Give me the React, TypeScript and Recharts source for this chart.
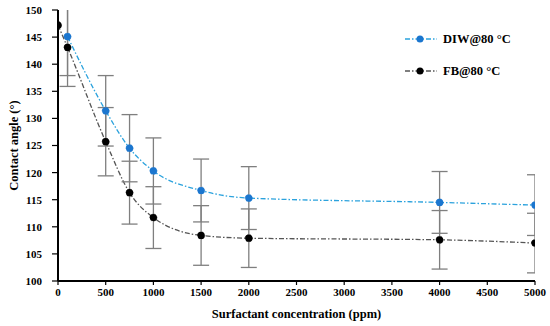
import React, { useEffect, useRef } from 'react';
import { ComposedChart, Line, XAxis, YAxis, ErrorBar, Legend } from 'recharts';

// DIW@80 °C
const concDIW = [100, 500, 750, 1000, 1500, 2000, 4000, 5000];
const angleDIW = [145.1, 131.4, 124.5, 120.3, 116.7, 115.3, 114.5, 114.0];
const errDIW = [7.2, 6.5, 6.2, 6.1, 5.8, 5.8, 5.7, 5.6];

// FB@80 °C
const concFB = [0, 100, 500, 750, 1000, 1500, 2000, 4000, 5000];
const angleFB = [147.2, 143.1, 125.7, 116.3, 111.7, 108.4, 107.9, 107.6, 107.0];
const errFB = [0, 7.2, 6.3, 5.8, 5.7, 5.5, 5.4, 5.4, 5.5];

const xTicks = [0, 500, 1000, 1500, 2000, 2500, 3000, 3500, 4000, 4500, 5000];
const yTicks = [100, 105, 110, 115, 120, 125, 130, 135, 140, 145, 150];

const diwData = concDIW.map((c, i) => ({ conc: c, angle: angleDIW[i], err: errDIW[i] }));
const fbData = concFB.map((c, i) => ({ conc: c, angle: angleFB[i], err: errFB[i] }));

const W = 550;
const H = 326;
const MARGIN = { top: 10, right: 15, bottom: 0, left: 0 };
const Y_AXIS_W = 58;
const X_AXIS_H = 45;

const FONT = 'Liberation Serif, Times New Roman, serif';
const BLUE_LINE = '#2ba2dd';
const BLUE_DOT = '#1b76cf';
const ERR = '#7f7f7f';

const textStyle = { fill: '#000', fontFamily: FONT, fontWeight: 700 };

const legendItems = [
  { label: 'DIW@80 °C', line: BLUE_LINE, dot: BLUE_DOT },
  { label: 'FB@80 °C', line: '#555', dot: '#000' },
];

const renderLegend = () => (
  <div style={{ fontFamily: FONT, fontWeight: 'bold', fontSize: 12.5 }}>
    {legendItems.map((it) => (
      <div key={it.label} style={{ display: 'flex', alignItems: 'center', height: 16, marginBottom: 16 }}>
        <svg width={36} height={10} style={{ marginRight: 3 }}>
          <line x1={1} y1={5} x2={33} y2={5} stroke={it.line} strokeWidth={1.3} strokeDasharray="5 2 1.5 2" />
          <circle cx={16} cy={5} r={3.5} fill={it.dot} />
        </svg>
        <span style={{ color: '#000' }}>{it.label}</span>
      </div>
    ))}
  </div>
);

// error bars are cut at the plot frame in the original, recharts doesn't clip them
const useClipErrorBars = (ref: React.RefObject<HTMLDivElement | null>) => {
  useEffect(() => {
    const root = ref.current;
    if (!root) return;
    const ns = 'http://www.w3.org/2000/svg';
    const apply = () => {
      const svg = root.querySelector('svg.recharts-surface') || root.querySelector('svg');
      if (!svg) return;
      if (!svg.querySelector('#plot-clip')) {
        const cp = document.createElementNS(ns, 'clipPath');
        cp.setAttribute('id', 'plot-clip');
        cp.setAttribute('clipPathUnits', 'userSpaceOnUse');
        const r = document.createElementNS(ns, 'rect');
        r.setAttribute('x', String(MARGIN.left + Y_AXIS_W));
        r.setAttribute('y', String(MARGIN.top));
        r.setAttribute('width', String(W - MARGIN.left - MARGIN.right - Y_AXIS_W));
        r.setAttribute('height', String(H - MARGIN.top - MARGIN.bottom - X_AXIS_H));
        cp.appendChild(r);
        svg.insertBefore(cp, svg.firstChild);
      }
      svg.querySelectorAll(`[class*="errorBar"] line, line[stroke="${ERR}"]`).forEach((l) => {
        if (l.getAttribute('clip-path') !== 'url(#plot-clip)') l.setAttribute('clip-path', 'url(#plot-clip)');
      });
    };
    apply();
    const mo = new MutationObserver(apply);
    mo.observe(root, { childList: true, subtree: true });
    return () => mo.disconnect();
  }, [ref]);
};

const App: React.FC = () => {
  const wrapRef = useRef<HTMLDivElement>(null);
  useClipErrorBars(wrapRef);

  return (
    <div ref={wrapRef} style={{ position: 'absolute', left: 0, top: 0, background: '#fff', fontFamily: FONT }}>
      <ComposedChart width={W} height={H} margin={MARGIN} style={{ fontFamily: FONT }}>
        <XAxis
          dataKey="conc"
          type="number"
          domain={[0, 5000]}
          ticks={xTicks}
          allowDataOverflow
          height={X_AXIS_H}
          tickSize={4}
          tickMargin={3}
          axisLine={{ stroke: '#000', strokeWidth: 2 }}
          tickLine={{ stroke: '#000', strokeWidth: 1.2 }}
          tick={{ ...textStyle, fontSize: 11, style: textStyle }}
          label={{
            value: 'Surfactant concentration (ppm)',
            position: 'insideBottom',
            offset: 8,
            style: { ...textStyle, fontSize: 12.5 },
          }}
        />
        <XAxis
          xAxisId="top"
          orientation="top"
          type="number"
          domain={[0, 5000]}
          height={0}
          tick={false}
          tickLine={false}
          axisLine={{ stroke: '#000', strokeWidth: 1.3 }}
        />
        <YAxis
          type="number"
          domain={[100, 150]}
          ticks={yTicks}
          allowDataOverflow
          width={Y_AXIS_W}
          tickSize={6}
          tickMargin={10}
          axisLine={{ stroke: '#000', strokeWidth: 2 }}
          tickLine={{ stroke: '#000', strokeWidth: 1.2 }}
          tick={{ ...textStyle, fontSize: 11, style: textStyle }}
          label={{
            value: 'Contact angle (°)',
            angle: -90,
            position: 'insideLeft',
            offset: 14,
            style: { ...textStyle, textAnchor: 'middle', fontSize: 12.5 },
          }}
        />
        <YAxis
          yAxisId="right"
          orientation="right"
          type="number"
          domain={[100, 150]}
          width={0}
          tick={false}
          tickLine={false}
          axisLine={{ stroke: '#000', strokeWidth: 1.3 }}
        />
        <Legend
          layout="horizontal"
          verticalAlign="middle"
          align="center"
          content={renderLegend}
          wrapperStyle={{ position: 'absolute', left: 404, top: 31, width: 'auto', height: 'auto' }}
        />
        <Line
          data={fbData}
          dataKey="angle"
          type="monotone"
          stroke="#555"
          strokeWidth={1.3}
          strokeDasharray="5 2 1.5 2"
          dot={{ r: 3.6, fill: '#000', stroke: '#000', strokeWidth: 0.5 }}
          activeDot={false}
          isAnimationActive={false}
        >
          <ErrorBar dataKey="err" width={8} stroke={ERR} strokeWidth={1.3} direction="y" isAnimationActive={false} />
        </Line>
        <Line
          data={diwData}
          dataKey="angle"
          type="monotone"
          stroke={BLUE_LINE}
          strokeWidth={1.3}
          strokeDasharray="5 2 1.5 2"
          dot={{ r: 3.6, fill: BLUE_DOT, stroke: BLUE_DOT, strokeWidth: 0.5 }}
          activeDot={false}
          isAnimationActive={false}
        >
          <ErrorBar dataKey="err" width={8} stroke={ERR} strokeWidth={1.3} direction="y" isAnimationActive={false} />
        </Line>
      </ComposedChart>
    </div>
  );
};

export default App;
